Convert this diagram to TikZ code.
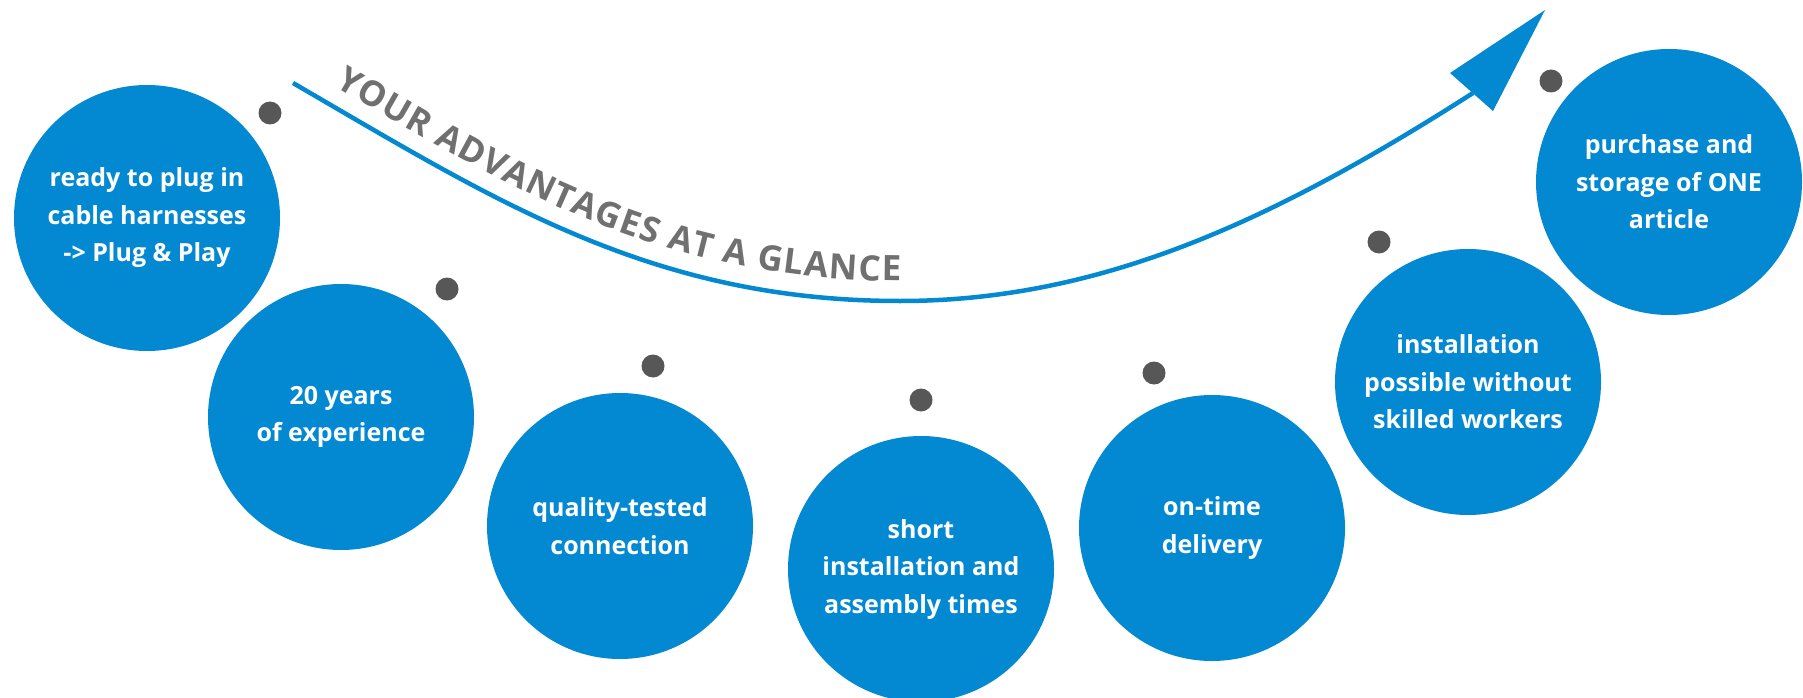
\documentclass[tikz,border=0pt]{standalone}
\usepackage{fontspec}
\setmainfont{Open Sans}
\usetikzlibrary{decorations.text}
\definecolor{cblue}{HTML}{0389D2}
\definecolor{dotgray}{HTML}{575757}
\definecolor{titlegray}{HTML}{707070}
\begin{document}
\begin{tikzpicture}[x=1pt,y=-1pt,
  bubble/.style={circle, fill=cblue, minimum size=266pt, inner sep=0pt, text=white, align=center,
    font=\fontsize{25}{37.5}\selectfont\bfseries},
  dot/.style={circle, fill=dotgray, minimum size=23pt, inner sep=0pt},
  sweep/.style={cblue, line width=4.5pt}]
\useasboundingbox (0,0) rectangle (1803,698);
% sweeping arrow
\coordinate (arrowstart) at (293,83);
\coordinate (lowpoint) at (900,301);
\coordinate (arrowend) at (1473,93);
\coordinate (tip) at (1545,10);
\coordinate (headL) at (1450,73);
\coordinate (headR) at (1493,111);
\draw[sweep] (arrowstart) .. controls (493,199) and (650,301) .. (lowpoint)
  .. controls (1100,301) and (1273,221) .. (arrowend);
\fill[cblue] (tip) -- (headL) -- (headR) -- cycle;
% title along the curve
\coordinate (titlestart) at (334.4,86.2);
\coordinate (titleend) at (901,281);
\path[decorate, decoration={text along path, text align=fit to path,
  text={|\fontsize{35}{40}\selectfont\bfseries\color{titlegray}|YOUR ADVANTAGES AT A GLANCE}}]
  (titlestart) .. controls (515.4,192.8) and (667.5,281) .. (titleend);
% bubbles
\node[bubble] (b1) at (147,218) {ready to plug in\\cable harnesses\\-> Plug \& Play};
\node[bubble] (b2) at (341,417) {20 years\\of experience};
\node[bubble] (b3) at (620,526) {quality-tested\\connection};
\node[bubble] (b4) at (921,569) {short\\installation and\\assembly times};
\node[bubble] (b5) at (1212,528) {on-time\\delivery};
\node[bubble] (b6) at (1468,382) {installation\\possible without\\skilled workers};
\node[bubble] (b7) at (1669,182) {purchase and\\storage of ONE\\article};
% dots
\node[dot] (d1) at (270,113) {};
\node[dot] (d2) at (447,289) {};
\node[dot] (d3) at (653,366) {};
\node[dot] (d4) at (921,400) {};
\node[dot] (d5) at (1154,373) {};
\node[dot] (d6) at (1379,242) {};
\node[dot] (d7) at (1551,81) {};
\end{tikzpicture}
\end{document}
